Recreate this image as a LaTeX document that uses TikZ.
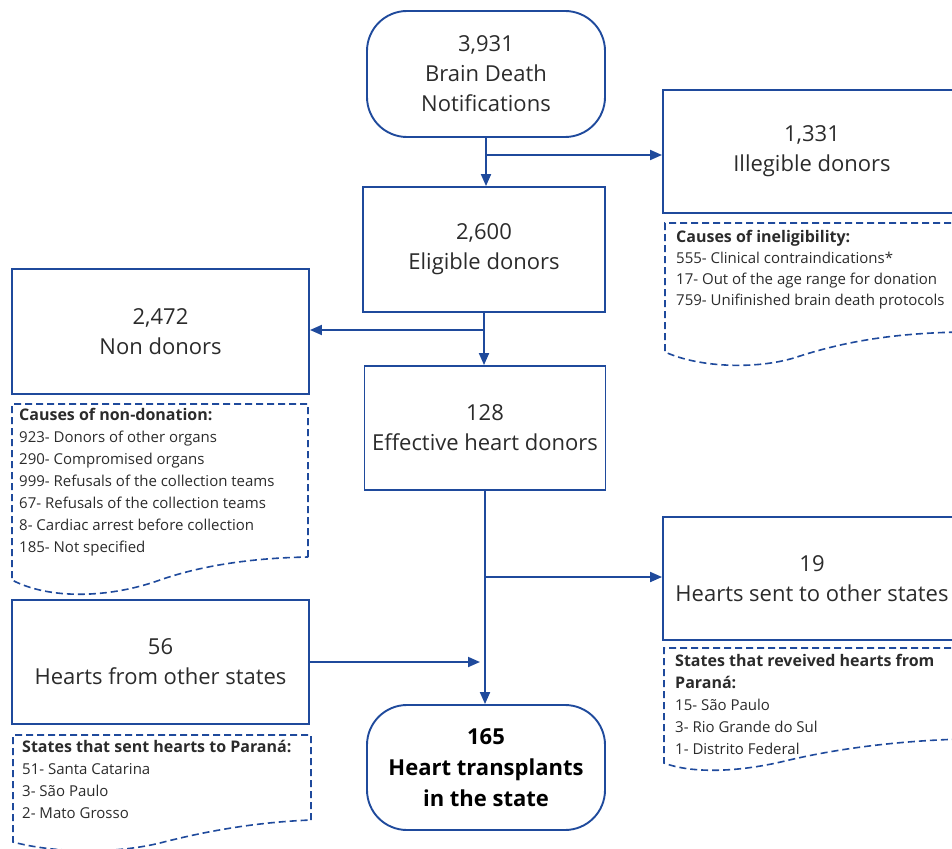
\documentclass[tikz,border=0pt]{standalone}
\usepackage{fontspec}
\setmainfont{Open Sans}
\usetikzlibrary{arrows.meta,positioning}

\definecolor{flowblue}{HTML}{1F4A9C}
\definecolor{txtgray}{HTML}{2B2B2B}

\tikzset{
  box/.style = {draw = flowblue, line width = 1.9pt, align = center, inner sep = 0pt,
                text = txtgray, font = \fontsize{22}{30}\selectfont},
  endbox/.style = {box, rounded corners = 40pt},
  note/.style = {anchor = north west, align = left, inner sep = 0pt, text = txtgray,
                 font = \fontsize{15}{22}\selectfont},
  notedash/.style = {draw = flowblue, line width = 1.6pt, dash pattern = on 7pt off 4pt},
  flow/.style = {draw = flowblue, line width = 1.9pt, -{Triangle[length=12pt, width=10pt]}}
}

\begin{document}
\begin{tikzpicture}[x = 1pt, y = -1pt]
        \useasboundingbox (0,0) rectangle (952,848);

        % boxes
        \node[endbox, minimum width = 238pt, minimum height = 126pt] (notif) at (486,74)
             {3,931\\Brain Death\\Notifications};
        \node[box, minimum width = 298pt, minimum height = 123pt] (illeg) at (812,151.5)
             {1,331\\Illegible donors};
        \node[box, minimum width = 242pt, minimum height = 125pt] (elig) at (484,249.5)
             {2,600\\Eligible donors};
        \node[box, minimum width = 297pt, minimum height = 125pt] (nondon) at (160.5,331.5)
             {2,472\\Non donors};
        \node[box, minimum width = 241pt, minimum height = 124pt] (eff) at (485,428)
             {128\\Effective heart donors};
        \node[box, minimum width = 298pt, minimum height = 123pt] (sent) at (812,578.5)
             {19\\Hearts sent to other states};
        \node[box, minimum width = 297pt, minimum height = 124pt] (from) at (160.5,662)
             {56\\Hearts from other states};
        \node[endbox, minimum width = 238pt, minimum height = 125pt, font = \fontsize{22}{31}\selectfont\bfseries, text = black] (trans) at (486,767.5)
             {165\\Heart transplants\\in the state};

        % notes
        \draw[notedash] (962,223) -- (665,223) -- (665,352)
              .. controls (700,368) and (760,370) .. (800,356)
              .. controls (850,340) and (900,333) .. (962,332);
        \node[note, font = \fontsize{15}{21}\selectfont] (inelnote) at (676,230)
             {\textbf{\fontsize{16}{21}\selectfont Causes of ineligibility:}\\555- Clinical contraindications*\\17- Out of the age range for donation\\759- Unifinished brain death protocols};

        \draw[notedash] (308,557) -- (308,404) -- (12,404) -- (12,580)
              .. controls (50,600) and (110,598) .. (160,580)
              .. controls (200,566) and (250,558) .. (308,557);
        \node[note] (nondonnote) at (19,408)
             {\textbf{\fontsize{16}{22}\selectfont Causes of non-donation:}\\923- Donors of other organs\\290- Compromised organs\\999- Refusals of the collection teams\\67- Refusals of the collection teams\\8- Cardiac arrest before collection\\185- Not specified};

        \draw[notedash] (311,820) -- (311,735) -- (13,735) -- (13,842)
              .. controls (50,852) and (110,855) .. (160,843)
              .. controls (210,830) and (260,822) .. (311,820);
        \node[note] (fromnote) at (22,740)
             {\textbf{\fontsize{16}{22}\selectfont States that sent hearts to Paraná:}\\51- Santa Catarina\\3- São Paulo\\2- Mato Grosso};

        \draw[notedash] (962,648) -- (664,648) -- (664,763)
              .. controls (690,773) and (735,773) .. (785,761)
              .. controls (835,749) and (895,741) .. (962,739);
        \node[note] (sentnote) at (675,654)
             {\textbf{\fontsize{16}{22}\selectfont States that reveived hearts from}\\\textbf{\fontsize{16}{22}\selectfont Paraná:}\\15- São Paulo\\3- Rio Grande do Sul\\1- Distrito Federal};

        % connectors
        \coordinate (j1) at (notif.south |- 0,155);
        \coordinate (j2) at (elig.south |- 0,330);
        \coordinate (j3) at (eff.south |- 0,577);

        \draw[flow] (notif.south) -- (notif.south |- elig.north);
        \draw[flow] (j1) -- (j1 -| illeg.west);
        \draw[flow] (elig.south) -- (elig.south |- eff.north);
        \draw[flow] (j2) -- (j2 -| nondon.east);
        \draw[flow] (eff.south) -- (eff.south |- trans.north);
        \draw[flow] (j3) -- (j3 -| sent.west);
        \draw[flow, shorten >= 5pt] (from.east) -- (from.east -| eff.south);
    \end{tikzpicture}
\end{document}
